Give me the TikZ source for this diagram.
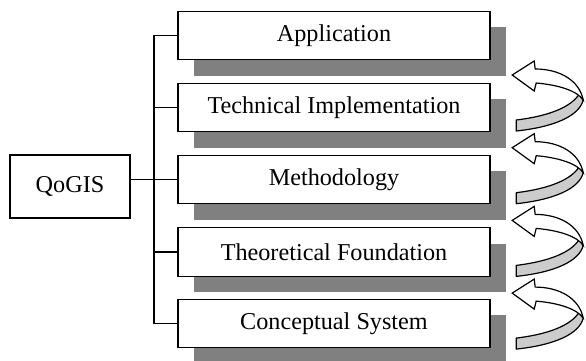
\documentclass[tikz,border=0pt]{standalone}
\usepackage{fontspec}
\setmainfont{Liberation Serif}
\usetikzlibrary{shadows}
\definecolor{shadowgray}{HTML}{808080}
\definecolor{ribbongray}{HTML}{CCCCCC}
\begin{document}
\begin{tikzpicture}[x=1pt,y=-1pt,
  layerbox/.style={draw,line width=1.2pt,fill=white,minimum width=312pt,minimum height=48.5pt,inner sep=0pt,
    font=\fontsize{24.2}{28}\selectfont,
    drop shadow={shadow xshift=16pt,shadow yshift=-16pt,fill=shadowgray,opacity=1}},
  rootbox/.style={draw,line width=1.2pt,fill=white,minimum width=120pt,minimum height=63pt,inner sep=0pt,
    font=\fontsize{24.2}{28}\selectfont},
  link/.style={line width=1.2pt},
  ribbonback/.style={draw,line width=1.2pt,fill=ribbongray,line join=round},
  ribbonfront/.style={draw,line width=1.2pt,fill=white,line join=miter}
]
\useasboundingbox (0,0) rectangle (586,361);
\node[rootbox] (root) at (70,186.5) {QoGIS};
\node[layerbox] (app) at (334,35.5) {Application};
\node[layerbox] (tech) at (334,107.5) {Technical Implementation};
\node[layerbox] (meth) at (334,179.5) {Methodology};
\node[layerbox] (theo) at (334,252) {Theoretical Foundation};
\node[layerbox] (conc) at (334,323.5) {Conceptual System};
\coordinate (trunk) at (154,0);
\draw[link] (root.east |- meth.west) -- (trunk |- meth.west);
\draw[link] (trunk |- app.west) -- (trunk |- conc.west);
\foreach \n in {app,tech,meth,theo,conc}
  \draw[link] (trunk |- \n.west) -- (\n.west);
\foreach \k in {0,1,2,3}{
  \begin{scope}[shift={(-0.8,72.7*\k)}]
    \draw[ribbonback] (517,120) .. controls (550,116) and (572,107) .. (580,94) -- (584,100)
      .. controls (580,116) and (555,127) .. (517,131) -- cycle;
    \draw[ribbonfront] (513,75) -- (535,61) -- (536,69) .. controls (560,69) and (580,80) .. (584,100)
      .. controls (578,91) and (560,85) .. (537,83) -- (535,91) -- cycle;
  \end{scope}
}
\end{tikzpicture}
\end{document}
